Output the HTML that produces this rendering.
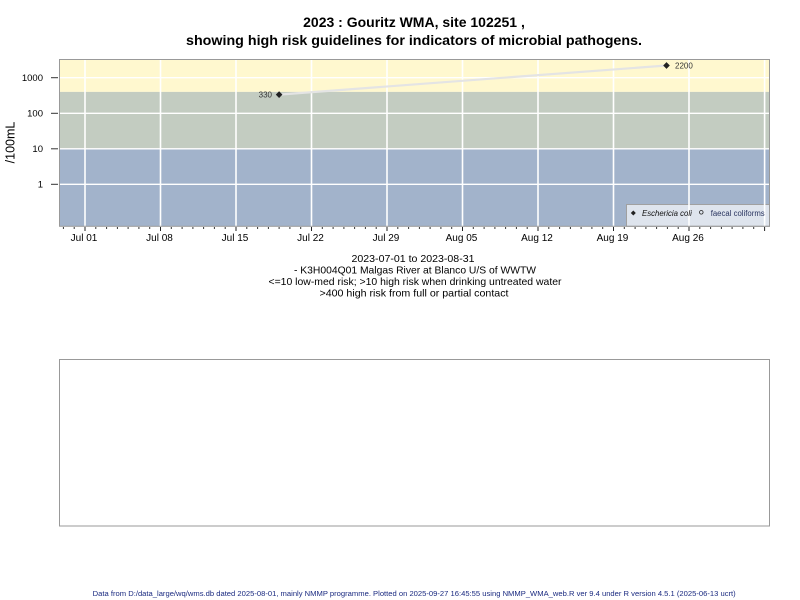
<!DOCTYPE html>
<html>
<head>
<meta charset="utf-8">
<style>
html,body{margin:0;padding:0;background:#fff;}
svg{display:block;}
text{font-family:"Liberation Sans",Arial,sans-serif;}
</style>
</head>
<body>
<svg width="800" height="600" viewBox="0 0 800 600" xmlns="http://www.w3.org/2000/svg">
  <rect x="0" y="0" width="800" height="600" fill="#ffffff"/>

  <!-- Title -->
  <text x="414" y="27" text-anchor="middle" font-size="14" font-weight="bold" fill="#000">2023 : Gouritz WMA, site 102251 ,</text>
  <text x="414" y="45" text-anchor="middle" font-size="14" font-weight="bold" fill="#000" textLength="456" lengthAdjust="spacingAndGlyphs">showing high risk guidelines for indicators of microbial pathogens.</text>

  <!-- Bands -->
  <rect x="59.5" y="59.5" width="710" height="32.4" fill="#fff8cf"/>
  <rect x="59.5" y="91.9" width="710" height="56.9" fill="#c3ccc1"/>
  <rect x="59.5" y="148.8" width="710" height="77.5" fill="#a2b3cb"/>

  <!-- Legend background (semi-transparent) -->
  <rect x="626.5" y="204.5" width="143" height="21.8" fill="#ffffff" fill-opacity="0.65" stroke="#a0a0a0" stroke-width="1"/>

  <!-- Horizontal gridlines -->
  <g stroke="#ffffff" stroke-width="1.3">
    <line x1="59.5" y1="77.7" x2="769.5" y2="77.7"/>
    <line x1="59.5" y1="113.3" x2="769.5" y2="113.3"/>
    <line x1="59.5" y1="148.8" x2="769.5" y2="148.8"/>
    <line x1="59.5" y1="184.3" x2="769.5" y2="184.3"/>
  </g>
  <!-- Vertical gridlines -->
  <g stroke="#ffffff" stroke-width="1.6">
    <line x1="85" y1="59.5" x2="85" y2="226.3"/>
    <line x1="160.5" y1="59.5" x2="160.5" y2="226.3"/>
    <line x1="236" y1="59.5" x2="236" y2="226.3"/>
    <line x1="311.5" y1="59.5" x2="311.5" y2="226.3"/>
    <line x1="387" y1="59.5" x2="387" y2="226.3"/>
    <line x1="462.5" y1="59.5" x2="462.5" y2="226.3"/>
    <line x1="538" y1="59.5" x2="538" y2="226.3"/>
    <line x1="613.5" y1="59.5" x2="613.5" y2="226.3"/>
    <line x1="689" y1="59.5" x2="689" y2="226.3"/>
    <line x1="764.6" y1="59.5" x2="764.6" y2="226.3"/>
  </g>

  <!-- Data line -->
  <line x1="279.1" y1="94.6" x2="666.5" y2="65.5" stroke="#e4e4e4" stroke-width="2.2"/>
  <!-- Markers -->
  <polygon points="279.1,91.2 282.4,94.6 279.1,98 275.8,94.6" fill="#222"/>
  <polygon points="666.5,62.1 669.8,65.5 666.5,68.9 663.2,65.5" fill="#222"/>
  <text x="272" y="97.6" text-anchor="end" font-size="8" fill="#333">330</text>
  <text x="675" y="68.5" font-size="8" fill="#333">2200</text>

  <!-- Legend content -->
  <polygon points="633.3,210.5 635.8,213 633.3,215.5 630.8,213" fill="#222"/>
  <text x="642" y="216" font-size="7.8" font-style="italic" fill="#111">Eschericia coli</text>
  <circle cx="701.3" cy="212.3" r="1.8" fill="none" stroke="#222" stroke-width="0.8"/>
  <text x="710.7" y="216" font-size="7.8" fill="#2a3560" textLength="54" lengthAdjust="spacingAndGlyphs">faecal coliforms</text>

  <!-- Plot border -->
  <rect x="59.5" y="59.5" width="710" height="166.8" fill="none" stroke="#999" stroke-width="1"/>

  <!-- Y ticks -->
  <g stroke="#333" stroke-width="1">
    <line x1="51" y1="77.7" x2="58" y2="77.7"/>
    <line x1="51" y1="113.3" x2="58" y2="113.3"/>
    <line x1="51" y1="148.8" x2="58" y2="148.8"/>
    <line x1="51" y1="184.3" x2="58" y2="184.3"/>
  </g>
  <g font-size="9.5" fill="#000" text-anchor="end">
    <text x="43" y="81">1000</text>
    <text x="43" y="116.6">100</text>
    <text x="43" y="152.1">10</text>
    <text x="43" y="187.6">1</text>
  </g>
  <text transform="translate(14.5,142.5) rotate(-90)" text-anchor="middle" font-size="12.5" fill="#000">/100mL</text>

  <!-- X minor ticks (daily) -->
  <g stroke="#333" stroke-width="1">
    <line x1="63.4" y1="227" x2="63.4" y2="229"/>
    <line x1="74.2" y1="227" x2="74.2" y2="229"/>
    <line x1="95.8" y1="227" x2="95.8" y2="229"/>
    <line x1="106.6" y1="227" x2="106.6" y2="229"/>
    <line x1="117.4" y1="227" x2="117.4" y2="229"/>
    <line x1="128.1" y1="227" x2="128.1" y2="229"/>
    <line x1="138.9" y1="227" x2="138.9" y2="229"/>
    <line x1="149.7" y1="227" x2="149.7" y2="229"/>
    <line x1="171.3" y1="227" x2="171.3" y2="229"/>
    <line x1="182.1" y1="227" x2="182.1" y2="229"/>
    <line x1="192.9" y1="227" x2="192.9" y2="229"/>
    <line x1="203.6" y1="227" x2="203.6" y2="229"/>
    <line x1="214.4" y1="227" x2="214.4" y2="229"/>
    <line x1="225.2" y1="227" x2="225.2" y2="229"/>
    <line x1="246.8" y1="227" x2="246.8" y2="229"/>
    <line x1="257.6" y1="227" x2="257.6" y2="229"/>
    <line x1="268.4" y1="227" x2="268.4" y2="229"/>
    <line x1="279.1" y1="227" x2="279.1" y2="229"/>
    <line x1="289.9" y1="227" x2="289.9" y2="229"/>
    <line x1="300.7" y1="227" x2="300.7" y2="229"/>
    <line x1="322.3" y1="227" x2="322.3" y2="229"/>
    <line x1="333.1" y1="227" x2="333.1" y2="229"/>
    <line x1="343.9" y1="227" x2="343.9" y2="229"/>
    <line x1="354.6" y1="227" x2="354.6" y2="229"/>
    <line x1="365.4" y1="227" x2="365.4" y2="229"/>
    <line x1="376.2" y1="227" x2="376.2" y2="229"/>
    <line x1="397.8" y1="227" x2="397.8" y2="229"/>
    <line x1="408.6" y1="227" x2="408.6" y2="229"/>
    <line x1="419.4" y1="227" x2="419.4" y2="229"/>
    <line x1="430.1" y1="227" x2="430.1" y2="229"/>
    <line x1="440.9" y1="227" x2="440.9" y2="229"/>
    <line x1="451.7" y1="227" x2="451.7" y2="229"/>
    <line x1="473.3" y1="227" x2="473.3" y2="229"/>
    <line x1="484.1" y1="227" x2="484.1" y2="229"/>
    <line x1="494.9" y1="227" x2="494.9" y2="229"/>
    <line x1="505.6" y1="227" x2="505.6" y2="229"/>
    <line x1="516.4" y1="227" x2="516.4" y2="229"/>
    <line x1="527.2" y1="227" x2="527.2" y2="229"/>
    <line x1="548.8" y1="227" x2="548.8" y2="229"/>
    <line x1="559.6" y1="227" x2="559.6" y2="229"/>
    <line x1="570.4" y1="227" x2="570.4" y2="229"/>
    <line x1="581.1" y1="227" x2="581.1" y2="229"/>
    <line x1="591.9" y1="227" x2="591.9" y2="229"/>
    <line x1="602.7" y1="227" x2="602.7" y2="229"/>
    <line x1="624.3" y1="227" x2="624.3" y2="229"/>
    <line x1="635.1" y1="227" x2="635.1" y2="229"/>
    <line x1="645.9" y1="227" x2="645.9" y2="229"/>
    <line x1="656.6" y1="227" x2="656.6" y2="229"/>
    <line x1="667.4" y1="227" x2="667.4" y2="229"/>
    <line x1="678.2" y1="227" x2="678.2" y2="229"/>
    <line x1="699.8" y1="227" x2="699.8" y2="229"/>
    <line x1="710.6" y1="227" x2="710.6" y2="229"/>
    <line x1="721.4" y1="227" x2="721.4" y2="229"/>
    <line x1="732.1" y1="227" x2="732.1" y2="229"/>
    <line x1="742.9" y1="227" x2="742.9" y2="229"/>
    <line x1="753.7" y1="227" x2="753.7" y2="229"/>
  </g>
  <!-- X major ticks -->
  <g stroke="#222" stroke-width="1">
    <line x1="85" y1="227" x2="85" y2="231"/>
    <line x1="160.5" y1="227" x2="160.5" y2="231"/>
    <line x1="236" y1="227" x2="236" y2="231"/>
    <line x1="311.5" y1="227" x2="311.5" y2="231"/>
    <line x1="387" y1="227" x2="387" y2="231"/>
    <line x1="462.5" y1="227" x2="462.5" y2="231"/>
    <line x1="538" y1="227" x2="538" y2="231"/>
    <line x1="613.5" y1="227" x2="613.5" y2="231"/>
    <line x1="689" y1="227" x2="689" y2="231"/>
    <line x1="764.6" y1="227" x2="764.6" y2="231"/>
  </g>
  <g font-size="10" fill="#000" text-anchor="middle">
    <text x="84" y="241">Jul 01</text>
    <text x="159.5" y="241">Jul 08</text>
    <text x="235" y="241">Jul 15</text>
    <text x="310.5" y="241">Jul 22</text>
    <text x="386" y="241">Jul 29</text>
    <text x="461.5" y="241">Aug 05</text>
    <text x="537" y="241">Aug 12</text>
    <text x="612.5" y="241">Aug 19</text>
    <text x="688" y="241">Aug 26</text>
  </g>

  <!-- Subtitle lines -->
  <g font-size="10.5" fill="#000" text-anchor="middle">
    <text x="413" y="262" textLength="123" lengthAdjust="spacingAndGlyphs">2023-07-01 to 2023-08-31</text>
    <text x="415" y="273.5" textLength="242" lengthAdjust="spacingAndGlyphs">- K3H004Q01 Malgas River at Blanco U/S of WWTW</text>
    <text x="415" y="285" textLength="293" lengthAdjust="spacingAndGlyphs">&lt;=10 low-med risk; &gt;10 high risk when drinking untreated water</text>
    <text x="414" y="296.5" textLength="189" lengthAdjust="spacingAndGlyphs">&gt;400 high risk from full or partial contact</text>
  </g>

  <!-- Second (empty) panel -->
  <rect x="59.5" y="359.5" width="710" height="166.5" fill="none" stroke="#999" stroke-width="1"/>

  <!-- Footer -->
  <text x="92.7" y="596" font-size="7" fill="#1a2a80" textLength="643" lengthAdjust="spacingAndGlyphs">Data from D:/data_large/wq/wms.db dated 2025-08-01, mainly NMMP programme. Plotted on 2025-09-27 16:45:55 using NMMP_WMA_web.R ver 9.4 under R version 4.5.1 (2025-06-13 ucrt)</text>
</svg>
</body>
</html>
